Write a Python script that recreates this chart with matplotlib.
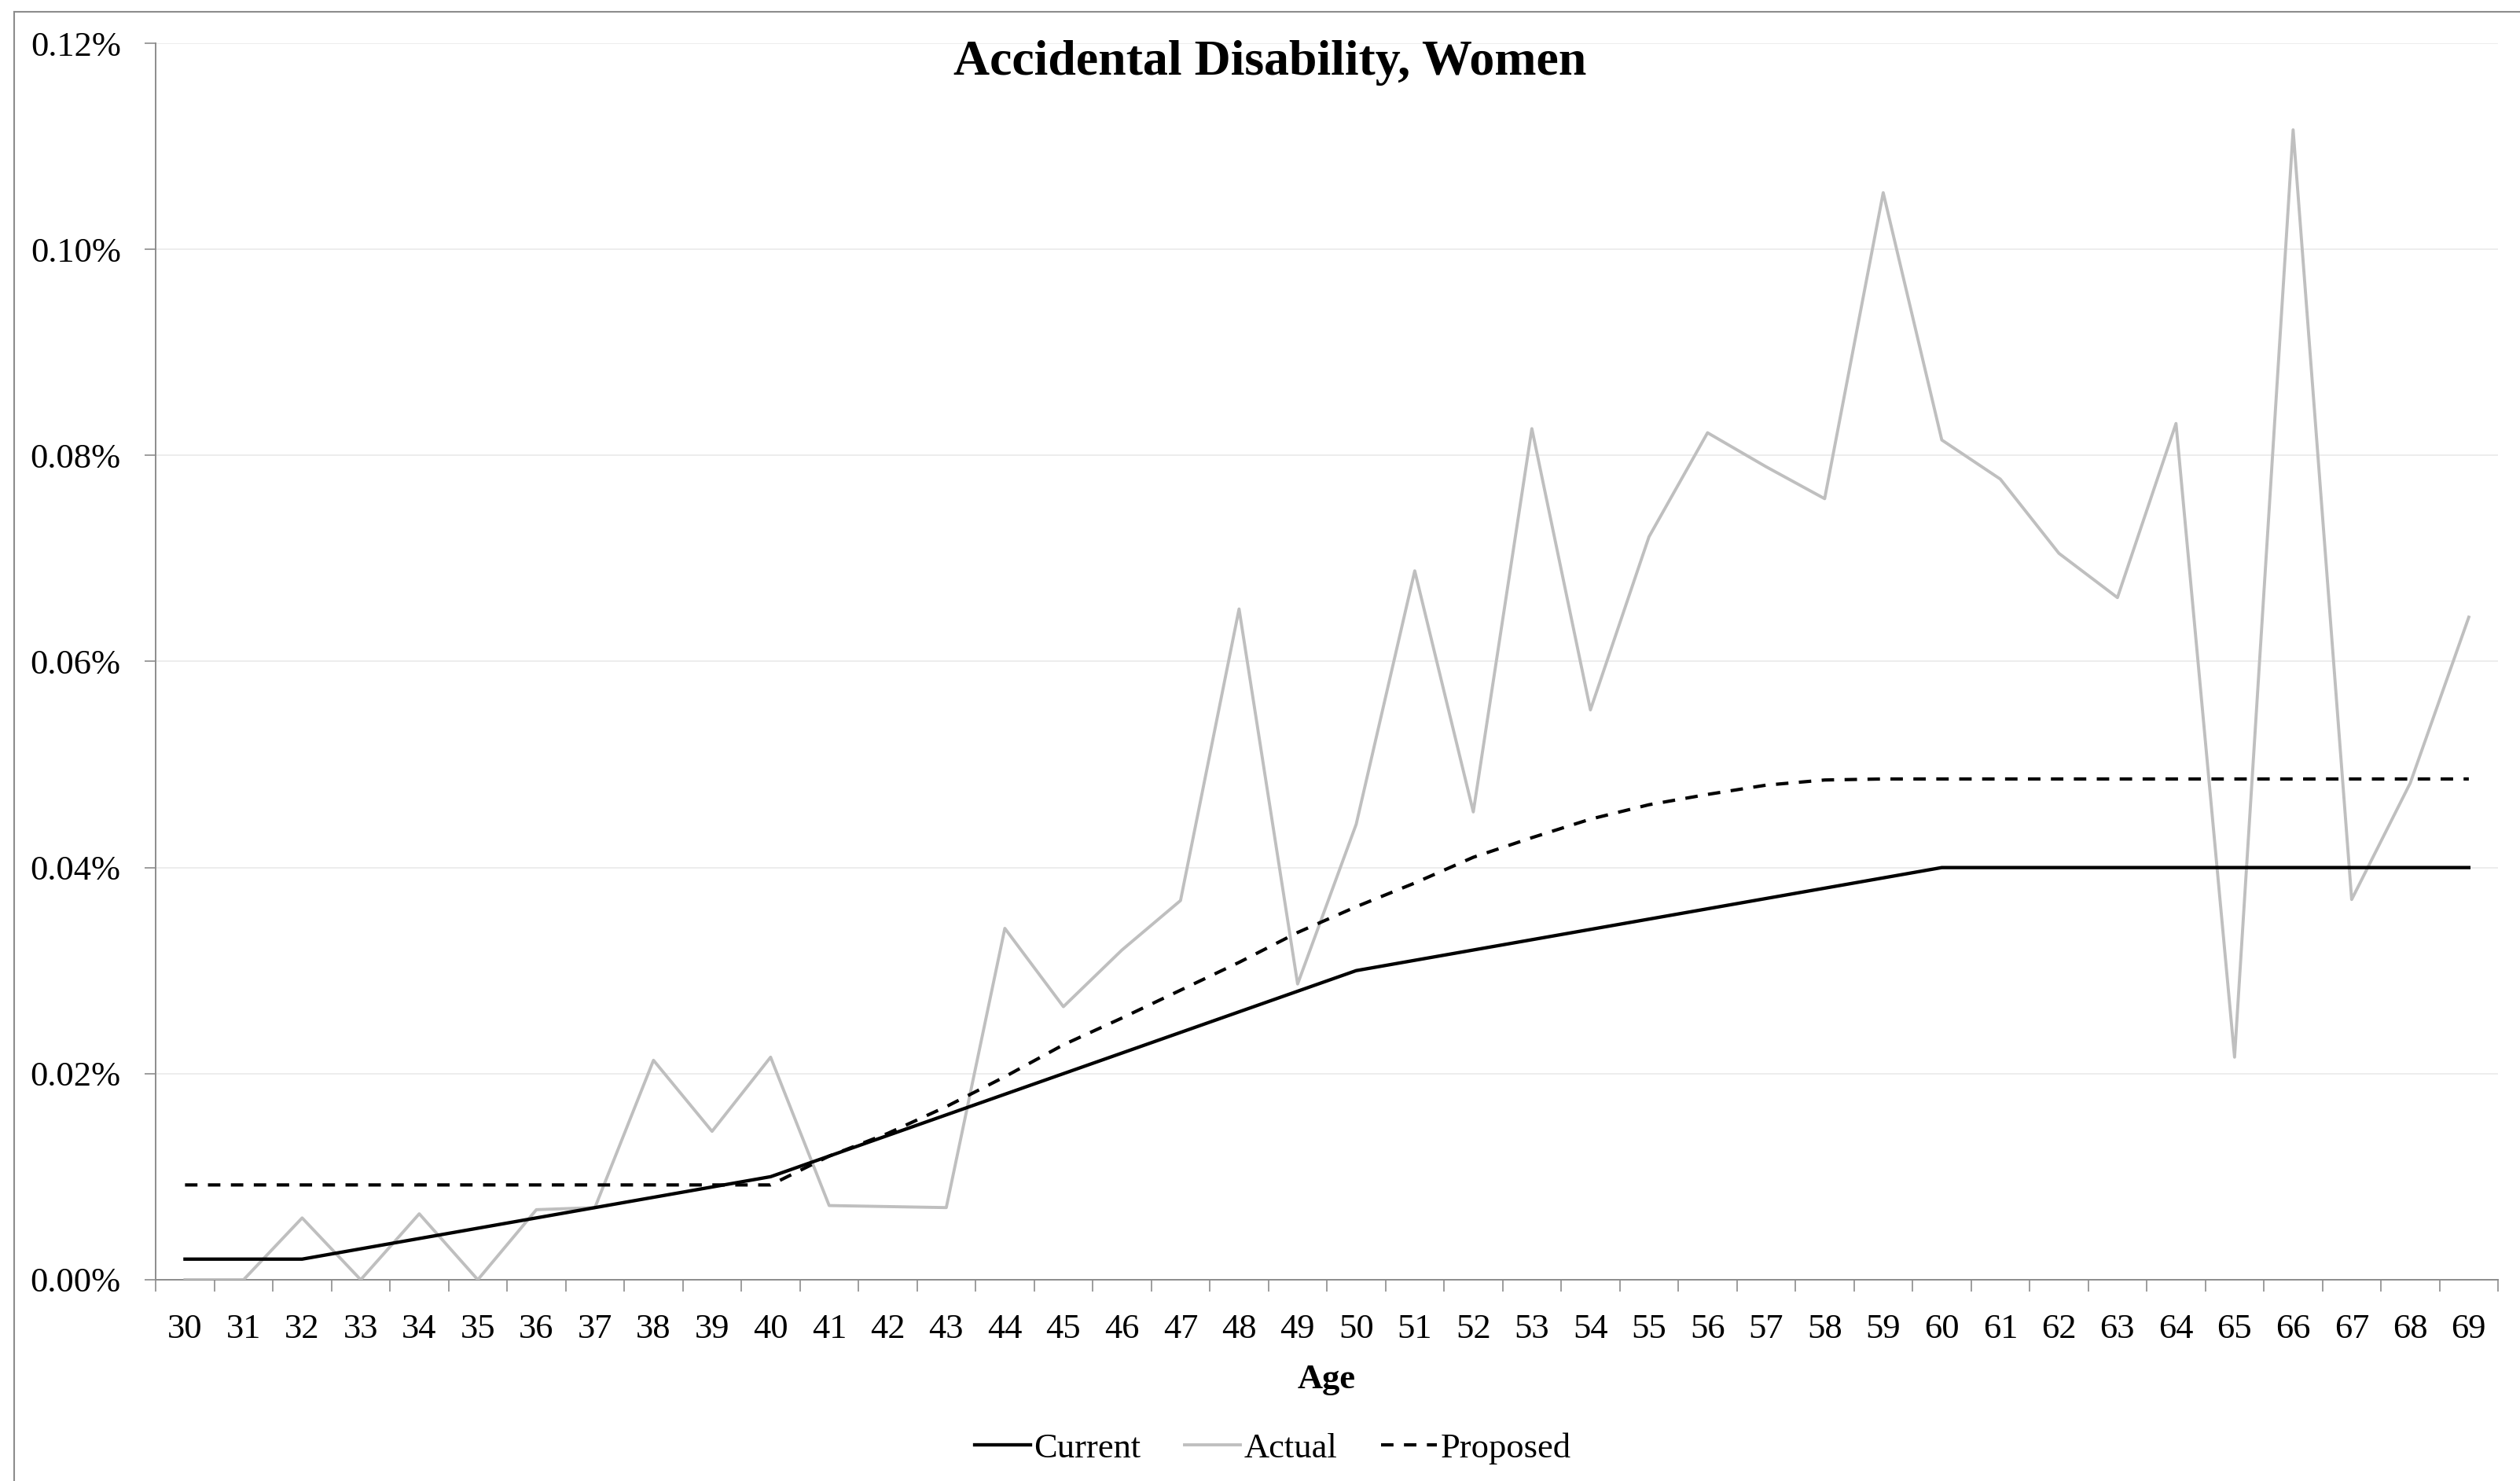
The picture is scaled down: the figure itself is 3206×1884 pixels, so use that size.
import matplotlib
matplotlib.use("Agg")
import matplotlib.pyplot as plt
from matplotlib.lines import Line2D
from matplotlib.ticker import FuncFormatter, MultipleLocator

plt.rcParams['font.family'] = ['Liberation Serif', 'DejaVu Serif']

# data (values in %)
ages = list(range(30, 70))
current = [0.002, 0.002, 0.002, 0.003, 0.004, 0.005, 0.006, 0.007, 0.008, 0.009,
           0.010, 0.012, 0.014, 0.016, 0.018, 0.020, 0.022, 0.024, 0.026, 0.028,
           0.030, 0.031, 0.032, 0.033, 0.034, 0.035, 0.036, 0.037, 0.038, 0.039,
           0.040, 0.040, 0.040, 0.040, 0.040, 0.040, 0.040, 0.040, 0.040, 0.040]
actual = [0.0, 0.0, 0.0060, 0.0, 0.0064, 0.0, 0.0068, 0.0070, 0.0213, 0.0144,
          0.0216, 0.0072, 0.0071, 0.0070, 0.0341, 0.0265, 0.0320, 0.0368, 0.0651, 0.0287,
          0.0442, 0.0688, 0.0454, 0.0826, 0.0553, 0.0721, 0.0822, 0.0789, 0.0758, 0.1055,
          0.0815, 0.0777, 0.0705, 0.0662, 0.0831, 0.0216, 0.1116, 0.0369, 0.0482, 0.0643]
proposed = [0.0092, 0.0092, 0.0092, 0.0092, 0.0092, 0.0092, 0.0092, 0.0092, 0.0092, 0.0092,
            0.0092, 0.0120, 0.0142, 0.0168, 0.0197, 0.0228, 0.0254, 0.0281, 0.0308, 0.0337,
            0.0362, 0.0385, 0.0410, 0.0429, 0.0447, 0.0461, 0.0471, 0.0480, 0.0485, 0.0486,
            0.0486, 0.0486, 0.0486, 0.0486, 0.0486, 0.0486, 0.0486, 0.0486, 0.0486, 0.0486]

fig = plt.figure(figsize=(32.06, 18.84), dpi=100)
ax = fig.add_axes([0.0618, 0.1359, 0.9295, 0.8349])

x = list(range(len(ages)))
ax.plot(x, current, color='black', lw=3.1, label='Current', zorder=4)
ax.plot(x, actual, color='#bfbfbf', lw=2.8, label='Actual', zorder=3)
ax.plot(x, proposed, color='black', lw=3.0, dashes=(3.8, 3.2), label='Proposed', zorder=5)

ax.set_xlim(-0.5, len(ages) - 0.5)
ax.set_ylim(0, 0.12)

ax.yaxis.set_major_locator(MultipleLocator(0.02))
ax.yaxis.set_major_formatter(FuncFormatter(lambda v, p: '%.2f%%' % v))
ax.grid(axis='y', color='#ececec', lw=1.3, zorder=0)

ax.set_xticks(x)
ax.set_xticklabels([str(a) for a in ages])
ax.set_xticks([i - 0.5 for i in range(len(ages) + 1)], minor=True)
ax.tick_params(axis='x', which='major', length=0, pad=31, labelsize=32)
ax.tick_params(axis='x', which='minor', length=11, width=1.2, color='#8c8c8c')
ax.tick_params(axis='y', length=10, width=1.2, color='#8c8c8c', pad=22, labelsize=32)

for s in ['top', 'right']:
    ax.spines[s].set_visible(False)
for s in ['left', 'bottom']:
    ax.spines[s].set_color('#8c8c8c')
    ax.spines[s].set_linewidth(1.4)

ax.set_xlabel('Age', fontsize=32, fontweight='bold', labelpad=17)
fig.text(0.504, 0.9575, 'Accidental Disability, Women', ha='center', va='center',
         fontsize=46, fontweight='bold')

fig.legend(loc='center', bbox_to_anchor=(0.505, 0.022), ncol=3, frameon=False,
           fontsize=32, handlelength=1.6, handletextpad=0.1, columnspacing=1.25)

# outer chart border
fig.add_artist(Line2D([0.0056, 0.0056], [0, 0.992], color='#8c8c8c', lw=1.5, transform=fig.transFigure))
fig.add_artist(Line2D([0.0056, 1], [0.992, 0.992], color='#8c8c8c', lw=1.5, transform=fig.transFigure))

fig.savefig('out.png', dpi=100)
